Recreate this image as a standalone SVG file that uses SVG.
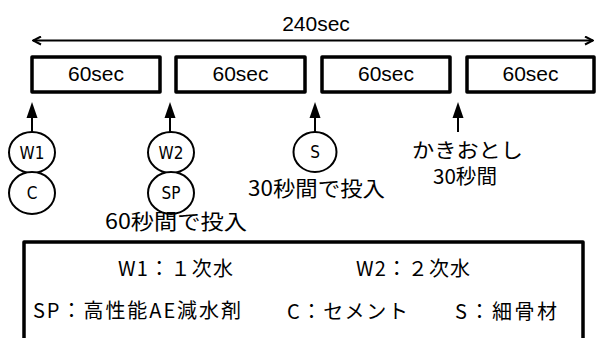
<svg xmlns="http://www.w3.org/2000/svg" width="596" height="338" viewBox="0 0 596 338">
<defs>
<marker id="chev" viewBox="0 0 10 10" refX="9" refY="5" markerWidth="10" markerHeight="10" markerUnits="userSpaceOnUse" orient="auto-start-reverse">
<path d="M1,1 L9,5 L1,9" fill="none" stroke="#000" stroke-width="2"/>
</marker>
<polygon id="head" points="0,0 -5.5,16 5.5,16" fill="#000"/>
</defs>
<style>
.box{fill:#fff;stroke:#000;stroke-width:3.5;stroke-linejoin:round}
.lbl{font-family:"Liberation Sans",Arial,sans-serif;font-size:21px;fill:#000;text-anchor:middle}
.jp{font-family:"Noto Sans CJK JP",sans-serif;font-size:21px;fill:#000}
.jps{font-family:"Noto Sans CJK JP",sans-serif;font-size:20px;fill:#000}
.circ{fill:#fff;stroke:#000;stroke-width:2}
.ct{font-family:"Liberation Sans Narrow","DejaVu Sans Condensed","Noto Sans CJK JP",sans-serif;font-size:17px;fill:#000;text-anchor:middle}
.leg{font-family:"Noto Sans CJK JP",sans-serif;font-size:20px;fill:#000}
.ln{stroke:#000;stroke-width:2;fill:none}
</style>
<rect width="596" height="338" fill="#fff"/>
<g id="connectors">
<line class="ln" x1="33" y1="40.5" x2="593" y2="40.5" marker-start="url(#chev)" marker-end="url(#chev)"/>
<line class="ln" x1="32" y1="132" x2="32" y2="112"/><use href="#head" x="32" y="102"/>
<line class="ln" x1="170" y1="132" x2="170" y2="112"/><use href="#head" x="170" y="102"/>
<line class="ln" x1="315" y1="132" x2="315" y2="112"/><use href="#head" x="315" y="102"/>
<line class="ln" x1="458" y1="132" x2="458" y2="112"/><use href="#head" x="458" y="102"/>
</g>
<g id="total"><text class="lbl" x="316" y="31">240sec</text></g>
<g id="b1"><rect class="box" x="32" y="57" width="128" height="35"/><text class="lbl" x="96" y="81">60sec</text></g>
<g id="b2"><rect class="box" x="176" y="57" width="129" height="35"/><text class="lbl" x="240.5" y="81">60sec</text></g>
<g id="b3"><rect class="box" x="322" y="57" width="128" height="35"/><text class="lbl" x="386" y="81">60sec</text></g>
<g id="b4"><rect class="box" x="467" y="57" width="127" height="35"/><text class="lbl" x="530.5" y="81">60sec</text></g>
<g id="c-w1"><ellipse class="circ" cx="32" cy="152.5" rx="23" ry="20.5"/><text class="ct" x="32" y="158.5">W1</text></g>
<g id="c-c"><ellipse class="circ" cx="32" cy="193" rx="23" ry="21"/><text class="ct" x="32" y="199">C</text></g>
<g id="c-w2"><ellipse class="circ" cx="171" cy="152.5" rx="23" ry="20.5"/><text class="ct" x="171" y="158.5">W2</text></g>
<g id="c-sp"><ellipse class="circ" cx="171" cy="193" rx="23" ry="21"/><text class="ct" x="171" y="199">SP</text></g>
<g id="c-s"><ellipse class="circ" cx="315" cy="152" rx="21.5" ry="20"/><text class="ct" x="315" y="158">S</text></g>
<g id="t60"><text class="jp" x="105" y="229" textLength="142" lengthAdjust="spacingAndGlyphs">60秒間で投入</text></g>
<g id="t30"><text class="jp" x="248" y="196" textLength="137" lengthAdjust="spacingAndGlyphs">30秒間で投入</text></g>
<g id="kaki"><text class="jps" x="412" y="158" textLength="111" lengthAdjust="spacingAndGlyphs">かきおとし</text><text class="jps" x="433" y="184" textLength="64" lengthAdjust="spacingAndGlyphs">30秒間</text></g>
<g id="legend">
<rect class="box" x="24" y="242" width="559" height="110"/>
<text class="leg" x="118" y="276" textLength="115" lengthAdjust="spacing">W1：１次水</text>
<text class="leg" x="356" y="276" textLength="114" lengthAdjust="spacing">W2：２次水</text>
<text class="leg" x="33" y="318" textLength="208" lengthAdjust="spacing">SP：高性能AE減水剤</text>
<text class="leg" x="287" y="319" textLength="121" lengthAdjust="spacing">C：セメント</text>
<text class="leg" x="455" y="319" textLength="102" lengthAdjust="spacing">S：細骨材</text>
</g>
</svg>
